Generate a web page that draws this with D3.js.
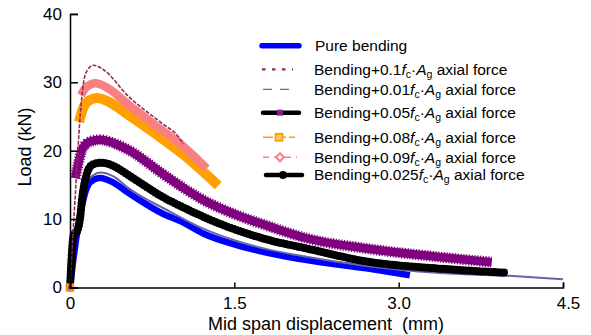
<!DOCTYPE html>
<html>
<head>
  <meta charset="utf-8" />
  <script src="https://d3js.org/d3.v7.min.js"></script>
  <style>
    body{margin:0;background:#fff;}
    text{font-family:"Liberation Sans",Arial,sans-serif;fill:#000;}
  </style>
</head>
<body>
<script>
// load-displacement data: [displacement (mm), load (kN)]
var pureBending = [[0,0],[0.03,4],[0.07,8.5],[0.11,12],[0.16,14.8],[0.22,15.8],[0.276,16.0],[0.4,15.3],[0.536,13.8],[0.839,10.85],[1.022,9.6],[1.216,7.9],[1.521,6.2],[1.825,5.0],[2.16,4.0],[2.707,2.8],[3.102,1.8]];
var axial01  = [[0,0],[0.05,14],[0.1,26.5],[0.125,30.1],[0.16,31.8],[0.216,32.5],[0.3,31.9],[0.536,27.9],[0.839,24.0],[0.992,22.0],[1.034,21.0]];
var axial001 = [[0,0],[0.03,4.3],[0.07,9],[0.11,12.6],[0.16,15.5],[0.22,16.5],[0.28,16.8],[0.4,16.2],[0.536,14.5],[0.912,11.1],[1.216,8.6],[1.521,6.8],[1.825,5.5],[2.16,4.5],[2.707,3.15],[3.346,2.15],[4.01,1.7],[4.5,1.2]];
var axial005 = [[0.048,16.0],[0.073,17.9],[0.109,20.1],[0.18,21.3],[0.276,21.6],[0.4,21.1],[0.536,20.1],[0.839,16.7],[1.022,14.7],[1.216,12.8],[1.521,10.6],[1.825,8.9],[2.16,7.2],[2.707,5.7],[3.346,4.5],[3.848,3.7]];
var axial008 = [[0.082,24.2],[0.119,26.2],[0.17,27.3],[0.246,27.7],[0.36,27.1],[0.536,25.2],[0.839,21.8],[1.022,19.6],[1.353,14.9]];
var axial009 = [[0.10,28.1],[0.15,29.3],[0.231,29.85],[0.34,29.2],[0.536,26.7],[0.839,23.0],[1.022,20.8],[1.247,17.4]];
var axial0025 = [[0,0],[0.034,7.7],[0.064,8.2],[0.094,10.4],[0.109,12.8],[0.155,16.7],[0.2,17.9],[0.276,18.25],[0.38,17.9],[0.536,16.4],[0.839,13.3],[1.022,11.8],[1.216,10.35],[1.521,8.4],[1.825,6.9],[2.16,5.7],[2.707,3.8],[3.346,2.8],[3.99,2.15]];

var xTicks = [0, 1.5, 3.0, 4.5];
var xTickLabels = ["0", "1.5", "3.0", "4.5"];
var yTicks = [0, 10, 20, 30, 40];
var legendRatios = ["0.1", "0.01", "0.05", "0.08", "0.09", "0.025"];

var W = 591, H = 335;
var svg = d3.select("body").append("svg").attr("width", W).attr("height", H);

var x = d3.scaleLinear().domain([0, 4.5]).range([70, 563]);
var y = d3.scaleLinear().domain([0, 40]).range([287.5, 13.9]);

var line = d3.line()
  .x(function(d){return x(d[0]);})
  .y(function(d){return y(d[1]);})
  .curve(d3.curveMonotoneX);

// series, back to front; tex = marker texture drawn under the solid line
var series = [
  {data: pureBending, color: "#0000ff", width: 6.5},
  {data: axial001, color: "#6464a8", width: 2},
  {data: axial0025, color: "#000000", width: 6.5, tex: {width: 8, dash: "0,3.2", cap: "round"}},
  {data: axial005, color: "#800080", width: 8.5, tex: {width: 11, dash: "1.2,1.6", cap: "butt"}},
  {data: axial008, color: "#ffa000", width: 10},
  {data: axial009, color: "#f88080", width: 8.5},
  {data: axial01, color: "#8e2a5e", width: 1.6, dash: "4,1.5"}
];

series.forEach(function(s){
  if (s.tex) {
    svg.append("path")
      .attr("d", line(s.data))
      .attr("fill", "none")
      .attr("stroke", s.color)
      .attr("stroke-width", s.tex.width)
      .attr("stroke-dasharray", s.tex.dash)
      .attr("stroke-linecap", s.tex.cap);
  }
  svg.append("path")
    .attr("d", line(s.data))
    .attr("fill", "none")
    .attr("stroke", s.color)
    .attr("stroke-width", s.width)
    .attr("stroke-dasharray", s.dash || null)
    .attr("stroke-linejoin", "round");
});

// little markers sitting on the origin
svg.append("rect").attr("x", x(0)-3.5).attr("y", y(0)-3.5).attr("width", 7).attr("height", 7)
  .attr("fill", "#f88080").attr("stroke", "#ff8c00").attr("stroke-width", 1.5);
svg.append("circle").attr("cx", x(0)).attr("cy", y(0)).attr("r", 2).attr("fill", "#8e2a5e");

// axes
var xAxis = d3.axisBottom(x).tickValues(xTicks).tickSize(-5).tickFormat(function(d,i){return xTickLabels[i];});
var gx = svg.append("g").attr("transform", "translate(0," + y(0) + ")").call(xAxis);
gx.select(".domain").attr("stroke", "#000").attr("stroke-width", 1.5);
gx.selectAll(".tick line").attr("stroke", "#000").attr("stroke-width", 1.5);
gx.selectAll(".tick text").attr("y", 9).attr("font-size", 17);
gx.select(".tick:last-of-type text").attr("x", 5);

var yAxis = d3.axisLeft(y).tickValues(yTicks).tickSize(-8);
var gy = svg.append("g").attr("transform", "translate(" + x(0) + ",0)").call(yAxis);
gy.select(".domain").attr("stroke", "#000").attr("stroke-width", 1.5);
gy.selectAll(".tick line").attr("stroke", "#000").attr("stroke-width", 1.5);
gy.selectAll(".tick text").attr("x", -8).attr("font-size", 17);

svg.append("text").attr("x", 326).attr("y", 330).attr("text-anchor", "middle")
  .attr("font-size", 18).attr("xml:space", "preserve").text("Mid span displacement  (mm)");
svg.append("text").attr("transform", "translate(31,147) rotate(-90)").attr("text-anchor", "middle")
  .attr("font-size", 18).text("Load (kN)");

// legend
var lg = svg.append("g");
var rowY = [45.7, 69.3, 89.3, 112.7, 137.3, 157.3, 175];

lg.append("line").attr("x1", 262).attr("x2", 299).attr("y1", rowY[0]).attr("y2", rowY[0])
  .attr("stroke", "#0000ff").attr("stroke-width", 5.5).attr("stroke-linecap", "round");
lg.append("line").attr("x1", 262).attr("x2", 293).attr("y1", rowY[1]).attr("y2", rowY[1])
  .attr("stroke", "#8e2a5e").attr("stroke-width", 2.2).attr("stroke-dasharray", "3.5,6.5");
lg.append("line").attr("x1", 263).attr("x2", 297).attr("y1", rowY[2]).attr("y2", rowY[2])
  .attr("stroke", "#6464a8").attr("stroke-width", 1.3).attr("stroke-dasharray", "9,8");
lg.append("line").attr("x1", 263).attr("x2", 299).attr("y1", rowY[3]).attr("y2", rowY[3])
  .attr("stroke", "#000").attr("stroke-width", 4.5).attr("stroke-linecap", "round");
lg.append("rect").attr("x", 277).attr("y", rowY[3]-3).attr("width", 6).attr("height", 6).attr("fill", "#8b1a8b");
lg.append("line").attr("x1", 263).attr("x2", 295).attr("y1", rowY[4]).attr("y2", rowY[4])
  .attr("stroke", "#ffa000").attr("stroke-width", 1.4).attr("stroke-dasharray", "10,3");
lg.append("rect").attr("x", 275.5).attr("y", rowY[4]-3.5).attr("width", 7).attr("height", 7)
  .attr("fill", "#ffd060").attr("stroke", "#ffa000").attr("stroke-width", 1.8);
lg.append("line").attr("x1", 263).attr("x2", 297).attr("y1", rowY[5]).attr("y2", rowY[5])
  .attr("stroke", "#f88080").attr("stroke-width", 1.4).attr("stroke-dasharray", "6,5");
lg.append("path").attr("d", "M280," + (rowY[5]-4) + "l4,4l-4,4l-4,-4z")
  .attr("fill", "#fff").attr("stroke", "#f88080").attr("stroke-width", 2);
lg.append("line").attr("x1", 266).attr("x2", 302).attr("y1", rowY[6]).attr("y2", rowY[6])
  .attr("stroke", "#000").attr("stroke-width", 4.5).attr("stroke-linecap", "round");
lg.append("circle").attr("cx", 283).attr("cy", rowY[6]).attr("r", 4).attr("fill", "#000");

var fs = 15.5;
lg.append("text").attr("x", 315).attr("y", rowY[0] + 5.3).attr("font-size", fs).text("Pure bending");
legendRatios.forEach(function(r, i){
  var t = lg.append("text").attr("x", 314).attr("y", rowY[i+1] + 5.3).attr("font-size", fs);
  t.append("tspan").text("Bending+" + r);
  t.append("tspan").attr("font-style", "italic").text("f");
  t.append("tspan").attr("font-size", 10.5).attr("dy", 3).text("c");
  t.append("tspan").attr("dy", -3).text("\u00b7");
  t.append("tspan").attr("font-style", "italic").text("A");
  t.append("tspan").attr("font-size", 10.5).attr("dy", 3).text("g");
  t.append("tspan").attr("dy", -3).text(" axial force");
});
</script>
</body>
</html>
